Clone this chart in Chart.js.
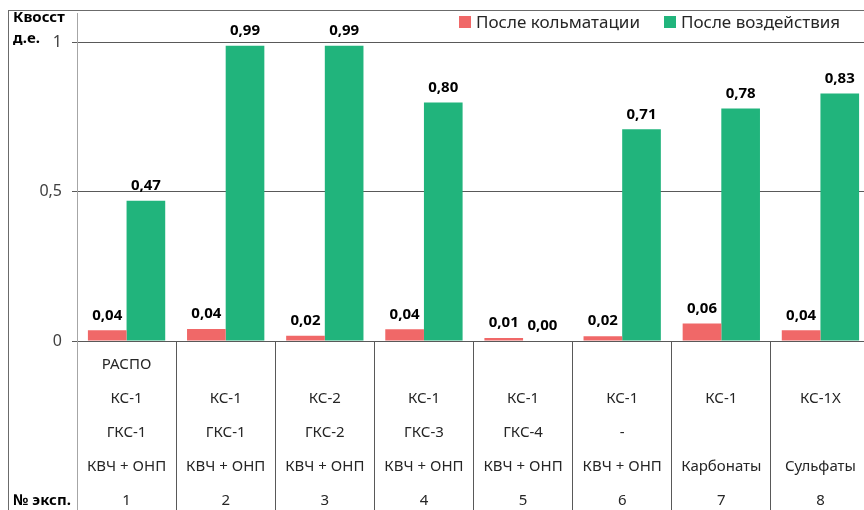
<!DOCTYPE html>
<html lang="ru">
<head>
<meta charset="utf-8">
<title>Квосст по экспериментам</title>
<script src="https://cdn.jsdelivr.net/npm/chart.js@4.4.1/dist/chart.umd.min.js"></script>
<style>
  html, body { margin: 0; padding: 0; background: #fff; }
  body { width: 864px; height: 510px; overflow: hidden; position: relative; font-family: "Noto Sans", sans-serif; color: #262626; }
  #wrap { position: absolute; left: 0; top: 0; width: 872px; height: 510px; }
  #frame { position: absolute; left: 8px; top: 10px; width: 900px; height: 600px; border-left: 1px solid #6b6b6b; border-top: 1px solid #6b6b6b; }
  .bold { position: absolute; font-weight: 700; font-size: 15px; line-height: 21px; color: #000; }
  #ytitle { left: 13px; top: 6px; }
  #rowtitle { left: 13px; top: 489px; }
  #legend { position: absolute; left: 459px; top: 10px; display: flex; white-space: nowrap; font-size: 17px; line-height: 24px; color: #262626; }
  #legend .item { display: flex; align-items: center; margin-right: 24px; }
  #legend .box { width: 12px; height: 12px; margin-right: 5px; }
</style>
</head>
<body>
<div id="wrap"><canvas id="chart" width="872" height="510"></canvas></div>
<div id="frame"></div>
<div id="ytitle" class="bold">Квосст<br>д.е.</div>
<div id="rowtitle" class="bold">№ эксп.</div>
<div id="legend"></div>
<script>
  // подписи под осью, по строкам
  const expNumbers = ["1", "2", "3", "4", "5", "6", "7", "8"];
  const rowMethod = ["РАСПО", "", "", "", "", "", "", ""];
  const rowReagent = ["КС-1", "КС-1", "КС-2", "КС-1", "КС-1", "КС-1", "КС-1", "КС-1Х"];
  const rowSecond = ["ГКС-1", "ГКС-1", "ГКС-2", "ГКС-3", "ГКС-4", "-", "", ""];
  const rowTarget = ["КВЧ + ОНП", "КВЧ + ОНП", "КВЧ + ОНП", "КВЧ + ОНП", "КВЧ + ОНП", "КВЧ + ОНП", "Карбонаты", "Сульфаты"];

  const afterColmatation = [0.036, 0.04, 0.018, 0.039, 0.01, 0.016, 0.059, 0.036];
  const afterTreatment = [0.47, 0.99, 0.99, 0.80, 0.00, 0.71, 0.78, 0.83];

  const yTicks = [0, 0.5, 1];

  const RED = "rgb(240, 104, 104)";
  const GREEN = "rgb(33, 180, 124)";
  const GRID = "#595959";

  const labels = expNumbers.map((n, i) => [rowMethod[i], rowReagent[i], rowSecond[i], rowTarget[i], n]);

  const formatValue = (v) => v.toFixed(2).replace(".", ",");

  const valueLabels = {
    id: "valueLabels",
    afterDatasetsDraw(chart) {
      const { ctx } = chart;
      ctx.save();
      ctx.font = 'bold 15px "Noto Sans"';
      ctx.fillStyle = "#000";
      ctx.textAlign = "center";
      ctx.textBaseline = "middle";
      chart.data.datasets.forEach((ds, i) => {
        chart.getDatasetMeta(i).data.forEach((bar, j) => {
          ctx.fillText(formatValue(ds.data[j]), bar.x, bar.y - 15);
        });
      });
      ctx.restore();
    },
  };

  const chart = new Chart(document.getElementById("chart"), {
    type: "bar",
    data: {
      labels,
      datasets: [
        { label: "После кольматации", data: afterColmatation, backgroundColor: RED },
        { label: "После воздействия", data: afterTreatment, backgroundColor: GREEN },
      ],
    },
    options: {
      responsive: false,
      animation: false,
      layout: { padding: { left: 0, top: 13, right: 2, bottom: 0 } },
      datasets: { bar: { categoryPercentage: 0.78, barPercentage: 1 } },
      plugins: { legend: { display: false }, tooltip: { enabled: false } },
      scales: {
        x: {
          afterFit: (scale) => { scale.height = 169; },
          grid: {
            offset: true,
            drawOnChartArea: false,
            tickLength: 169,
            color: (c) => (c.index === 0 ? "#a6a6a6" : GRID),
          },
          border: { color: GRID },
          ticks: {
            autoSkip: false,
            maxRotation: 0,
            padding: -162,
            color: "#262626",
            font: { family: "Noto Sans", size: 15, lineHeight: "34px" },
          },
        },
        y: {
          min: 0,
          max: 1.1,
          afterFit: (scale) => { scale.width = 77; },
          afterBuildTicks: (scale) => { scale.ticks = yTicks.map((value) => ({ value })); },
          grid: { color: GRID, tickLength: 5 },
          border: { color: "#a6a6a6" },
          ticks: {
            padding: 10,
            color: "#404040",
            font: { family: "Noto Sans", size: 16, lineHeight: "4px" },
            callback: (v) => String(v).replace(".", ","),
          },
        },
      },
    },
    plugins: [valueLabels],
  });

  // легенда из наборов данных
  const legend = document.getElementById("legend");
  chart.data.datasets.forEach((ds) => {
    const item = document.createElement("div");
    item.className = "item";
    const box = document.createElement("span");
    box.className = "box";
    box.style.background = ds.backgroundColor;
    item.appendChild(box);
    item.appendChild(document.createTextNode(ds.label));
    legend.appendChild(item);
  });
</script>
</body>
</html>
